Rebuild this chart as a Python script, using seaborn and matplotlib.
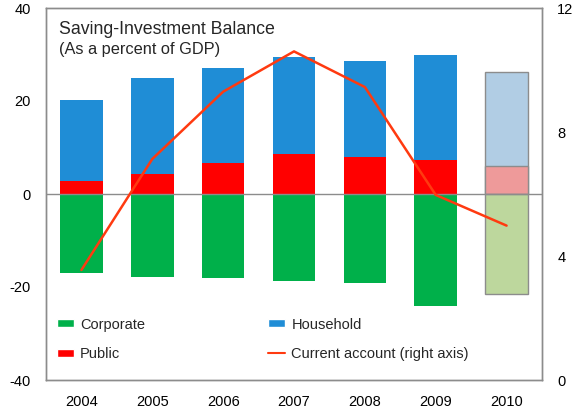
import numpy as np
import pandas as pd
import matplotlib
matplotlib.use("Agg")
import matplotlib.pyplot as plt
from matplotlib.patches import Patch
from matplotlib.lines import Line2D
import seaborn as sns

years = ["2004", "2005", "2006", "2007", "2008", "2009", "2010"]
corporate = [-16.9, -17.9, -18.1, -18.8, -19.2, -24.0, -21.4]
public = [2.7, 4.3, 6.7, 8.6, 8.0, 7.3, 6.0]
household = [17.6, 20.6, 20.5, 20.8, 20.5, 22.7, 20.3]
current_account = [3.55, 7.13, 9.3, 10.6, 9.45, 5.97, 4.98]

sns.set_theme(style="white")
plt.rcParams["font.family"] = ["Liberation Sans", "DejaVu Sans"]

df = pd.DataFrame({
    "year": years,
    "corporate": corporate,
    "public": public,
    "total": np.array(public) + np.array(household),
})

c_corp, c_pub, c_house = "#00B04A", "#FF0000", "#1F8DD6"
c_corp_p, c_pub_p, c_house_p = "#BDD79D", "#EE9A9A", "#B1CDE4"
c_line = "#FF3A10"

def pal(main, proj):
    return {y: (proj if y == "2010" else main) for y in years}

fig = plt.figure(figsize=(5.79, 4.08), dpi=100)
ax = fig.add_axes([46 / 579, 28 / 408, 496 / 579, 372 / 408])

# household stacked on top of public: draw full height first, then public over it
sns.barplot(data=df, x="year", y="total", hue="year", palette=pal(c_house, c_house_p),
            width=0.6, legend=False, ax=ax, saturation=1)
sns.barplot(data=df, x="year", y="public", hue="year", palette=pal(c_pub, c_pub_p),
            width=0.6, legend=False, ax=ax, saturation=1)
sns.barplot(data=df, x="year", y="corporate", hue="year", palette=pal(c_corp, c_corp_p),
            width=0.6, legend=False, ax=ax, saturation=1)

# outline the projected 2010 bar
for p in ax.patches:
    cx = p.get_x() + p.get_width() / 2
    if abs(cx - 6) < 0.01:
        p.set_edgecolor("#8C8C8C")
        p.set_linewidth(1.0)
    else:
        p.set_linewidth(0)

ax.axhline(0, color="#8C8C8C", lw=1.0, zorder=3)
ax.set_ylim(-40, 40)
ax.set_xlim(-0.5, 6.5)
ax.set_yticks([-40, -20, 0, 20, 40])
ax.set_yticklabels(["-40", "-20", "0", "20", "40"])
ax.set_xlabel("")
ax.set_ylabel("")
ax.tick_params(axis="both", length=0, labelsize=10.5, colors="black")
ax.tick_params(axis="y", pad=11)
ax.tick_params(axis="x", pad=11)

ax2 = ax.twinx()
sns.lineplot(x=np.arange(len(years)), y=current_account, ax=ax2, color=c_line, lw=1.8)
ax2.set_ylim(0, 12)
ax2.set_yticks([0, 4, 8, 12])
ax2.tick_params(axis="y", length=0, labelsize=10.5, pad=11, colors="black")
ax2.set_ylabel("")

for a in (ax, ax2):
    for s in a.spines.values():
        s.set_color("#8C8C8C")
        s.set_linewidth(1.0)

ax.text(0.026, 0.966, "Saving-Investment Balance", transform=ax.transAxes,
        fontsize=12.8, va="top", ha="left")
ax.text(0.026, 0.908, "(As a percent of GDP)", transform=ax.transAxes,
        fontsize=11.8, va="top", ha="left")

handles = [
    Patch(facecolor=c_corp, label="Corporate"),
    Patch(facecolor=c_pub, label="Public"),
    Patch(facecolor=c_house, label="Household"),
    Line2D([0], [0], color=c_line, lw=1.5, label="Current account (right axis)"),
]
ax2.legend(handles=handles, ncol=2, loc="upper left", bbox_to_anchor=(-0.004, 0.203),
           frameon=False, fontsize=10.5, handlelength=1.13, handleheight=0.48,
           handletextpad=0.45, columnspacing=8.45, labelspacing=1.06)

fig.savefig("out.png", dpi=100)
